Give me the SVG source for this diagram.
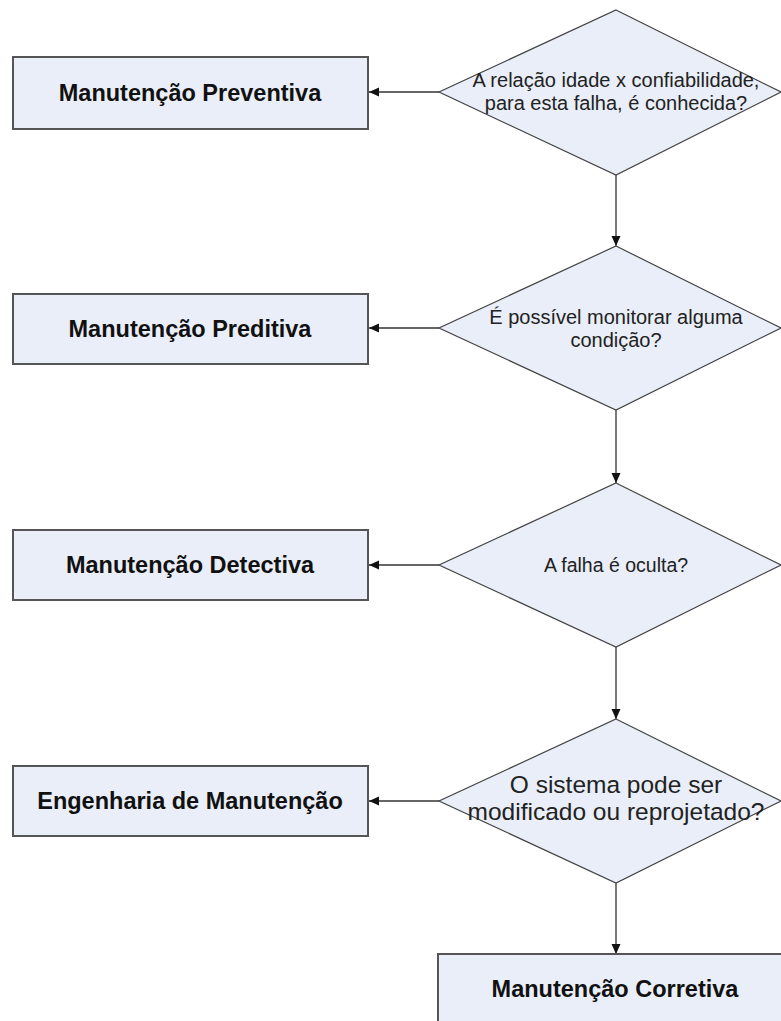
<svg xmlns="http://www.w3.org/2000/svg" width="781" height="1021" viewBox="0 0 781 1021">
<defs>
<marker id="arr" viewBox="0 0 10 10" refX="10" refY="5" markerWidth="10" markerHeight="10" markerUnits="userSpaceOnUse" orient="auto">
<path d="M0,0.5 L10,5 L0,9.5 Z" fill="#111"/>
</marker>
<style>
.box{fill:#E9EEF8;stroke:#555;stroke-width:2}
.dia{fill:#E9EEF8;stroke:#444;stroke-width:1.2}
.bt{font-family:"Liberation Sans",Arial,sans-serif;font-weight:bold;font-size:23.5px;fill:#111;text-anchor:middle}
.dt{font-family:"Liberation Sans",Arial,sans-serif;font-size:20px;fill:#222;text-anchor:middle}
.con{stroke:#333;stroke-width:1.3;fill:none;marker-end:url(#arr)}
</style>
</defs>
<rect width="781" height="1021" fill="#fff"/>
<g id="connectors">
<line class="con" x1="439" y1="92" x2="369" y2="92"/>
<line class="con" x1="439" y1="328" x2="369" y2="328"/>
<line class="con" x1="439" y1="565" x2="369" y2="565"/>
<line class="con" x1="439" y1="801" x2="369" y2="801"/>
<line class="con" x1="616" y1="175" x2="616" y2="246"/>
<line class="con" x1="616" y1="410" x2="616" y2="483"/>
<line class="con" x1="616" y1="647" x2="616" y2="719"/>
<line class="con" x1="616" y1="883" x2="616" y2="954"/>
</g>
<g id="q1">
<polygon class="dia" points="616,10 781,92 616,175 439,92"/>
<text class="dt" x="616" y="87">A relação idade x confiabilidade,</text>
<text class="dt" x="616" y="110">para esta falha, é conhecida?</text>
</g>
<g id="q2">
<polygon class="dia" points="616,246 781,328 616,410 439,328"/>
<text class="dt" x="616" y="324">É possível monitorar alguma</text>
<text class="dt" x="616" y="347">condição?</text>
</g>
<g id="q3">
<polygon class="dia" points="616,483 781,565 616,647 439,565"/>
<text class="dt" x="616" y="572" style="font-size:19.5px">A falha é oculta?</text>
</g>
<g id="q4">
<polygon class="dia" points="616,719 781,801 616,883 439,801"/>
<text class="dt" x="616" y="793" style="font-size:24.5px">O sistema pode ser</text>
<text class="dt" x="616" y="820" style="font-size:24.5px">modificado ou reprojetado?</text>
</g>
<g id="preventiva">
<rect class="box" x="13" y="57" width="355" height="72"/>
<text class="bt" x="190" y="101">Manutenção Preventiva</text>
</g>
<g id="preditiva">
<rect class="box" x="13" y="294" width="355" height="70"/>
<text class="bt" x="190" y="337">Manutenção Preditiva</text>
</g>
<g id="detectiva">
<rect class="box" x="13" y="530" width="355" height="70"/>
<text class="bt" x="190" y="573">Manutenção Detectiva</text>
</g>
<g id="engenharia">
<rect class="box" x="13" y="766" width="355" height="70"/>
<text class="bt" x="190" y="809">Engenharia de Manutenção</text>
</g>
<g id="corretiva">
<rect class="box" x="438" y="954" width="356" height="72"/>
<text class="bt" x="615" y="997">Manutenção Corretiva</text>
</g>
</svg>
